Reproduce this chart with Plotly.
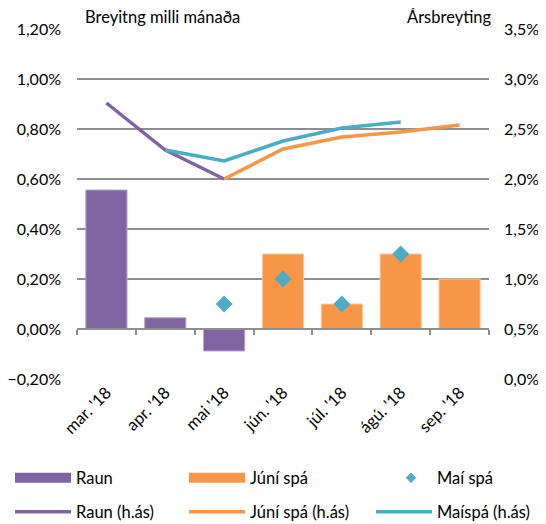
import plotly.graph_objects as go

cats = ["mar. '18", "apr. '18", "mai '18", "jún. '18", "júl. '18", "ágú. '18", "sep. '18"]
raun_bar = [0.556, 0.045, -0.088, None, None, None, None]
juni_bar = [None, None, None, 0.30, 0.10, 0.30, 0.20]
mai_pt = [None, None, 0.10, 0.20, 0.10, 0.30, None]
raun_line = [2.76, 2.29, 2.00, None, None, None, None]
juni_line = [None, None, 2.00, 2.30, 2.42, 2.47, 2.54]
mai_line = [None, 2.29, 2.18, 2.38, 2.51, 2.57, None]

PURPLE = "#8064a2"
ORANGE = "#f79646"
TEAL = "#4bacc6"
GRID = "#8e8e8e"
FONT = "Lato"
FS = 16.5

# page has an 8px body margin, so the figure is drawn 8px smaller and offset
OFF = 8

fig = go.Figure()

fig.add_trace(go.Bar(x=cats, y=raun_bar, marker=dict(color=PURPLE, line=dict(color="#b7a5cc", width=1)),
                     width=0.7, showlegend=False, yaxis="y"))
fig.add_trace(go.Bar(x=cats, y=juni_bar, marker=dict(color=ORANGE, line=dict(color="#fbc79b", width=1)),
                     width=0.7, showlegend=False, yaxis="y"))
fig.add_trace(go.Scatter(x=cats, y=mai_pt, mode="markers", marker=dict(symbol="diamond", size=13, color=TEAL),
                         showlegend=False, yaxis="y"))
fig.add_trace(go.Scatter(x=cats, y=raun_line, mode="lines", line=dict(color=PURPLE, width=3.5),
                         name="Raun (h.ás)", legend="legend4", yaxis="y2"))
fig.add_trace(go.Scatter(x=cats, y=juni_line, mode="lines", line=dict(color=ORANGE, width=3.5),
                         name="Júní spá (h.ás)", legend="legend5", yaxis="y2"))
fig.add_trace(go.Scatter(x=cats, y=mai_line, mode="lines", line=dict(color=TEAL, width=3.5),
                         name="Maíspá (h.ás)", legend="legend6", yaxis="y2"))

# legend-only entries for bars and markers
fig.add_trace(go.Scatter(x=[None], y=[None], mode="lines", line=dict(color=PURPLE, width=11),
                         name="Raun", legend="legend", yaxis="y"))
fig.add_trace(go.Scatter(x=[None], y=[None], mode="lines", line=dict(color=ORANGE, width=11),
                         name="Júní spá", legend="legend2", yaxis="y"))
fig.add_trace(go.Scatter(x=[None], y=[None], mode="markers", marker=dict(symbol="diamond", size=8, color=TEAL),
                         name="Maí spá", legend="legend3", yaxis="y"))
# carrier for the zero-line axis
fig.add_trace(go.Scatter(x=[None], y=[None], xaxis="x3", yaxis="y", showlegend=False, hoverinfo="skip"))


def leg(xpx, ypx, iw=56):
    return dict(x=(xpx - 77) / 412, y=(379 - ypx) / 350, xanchor="left", yanchor="middle",
                bgcolor="rgba(0,0,0,0)", font=dict(family=FONT, size=FS, color="#000"),
                itemwidth=iw)


fig.update_layout(
    width=546 - OFF, height=524 - OFF,
    margin=dict(l=77 - OFF, r=57, t=29 - OFF, b=145, autoexpand=False),
    paper_bgcolor="white", plot_bgcolor="white",
    separators=",.",
    barmode="overlay",
    font=dict(family=FONT, size=FS, color="#000"),
    xaxis=dict(type="category", categoryarray=cats, range=[-0.5, 6.5], tickangle=-45,
               showgrid=False, showline=False, ticks="", zeroline=False,
               tickfont=dict(family=FONT, size=FS)),
    xaxis3=dict(overlaying="x", anchor="free", position=1 / 7, range=[-0.5, 6.5],
                tickvals=[-0.5, 0.5, 1.5, 2.5, 3.5, 4.5, 5.5, 6.5], ticks="outside", ticklen=5,
                tickcolor=GRID, tickwidth=1.5, showline=True, linecolor=GRID, linewidth=1.5,
                showticklabels=False, showgrid=False, zeroline=False),
    yaxis=dict(range=[-0.2, 1.2], dtick=0.2, tick0=0, tickformat=".2f", ticksuffix="%",
               showgrid=True, gridcolor=GRID, gridwidth=1.5, zeroline=False, ticks="",
               ticklabelstandoff=15, tickfont=dict(family=FONT, size=16)),
    yaxis2=dict(range=[0, 3.5], dtick=0.5, tick0=0, tickformat=".1f", ticksuffix="%",
                overlaying="y", side="right", showgrid=False, zeroline=False, ticks="",
                ticklabelstandoff=14, tickfont=dict(family=FONT, size=16)),
    legend=leg(10, 478),
    legend2=leg(184, 478),
    legend3=leg(385, 478, iw=42),
    legend4=leg(10, 512),
    legend5=leg(184, 512),
    legend6=leg(371, 512),
    annotations=[
        dict(text="Breyitng milli mánaða", xref="paper", yref="paper", x=(83 - 77) / 412, y=(379 - 17) / 350,
             xanchor="left", yanchor="middle", showarrow=False, font=dict(family=FONT, size=FS)),
        dict(text="Ársbreyting", xref="paper", yref="paper", x=(494 - 77) / 412, y=(379 - 17) / 350,
             xanchor="right", yanchor="middle", showarrow=False, font=dict(family=FONT, size=FS)),
    ],
)

fig.write_html("out.html")
